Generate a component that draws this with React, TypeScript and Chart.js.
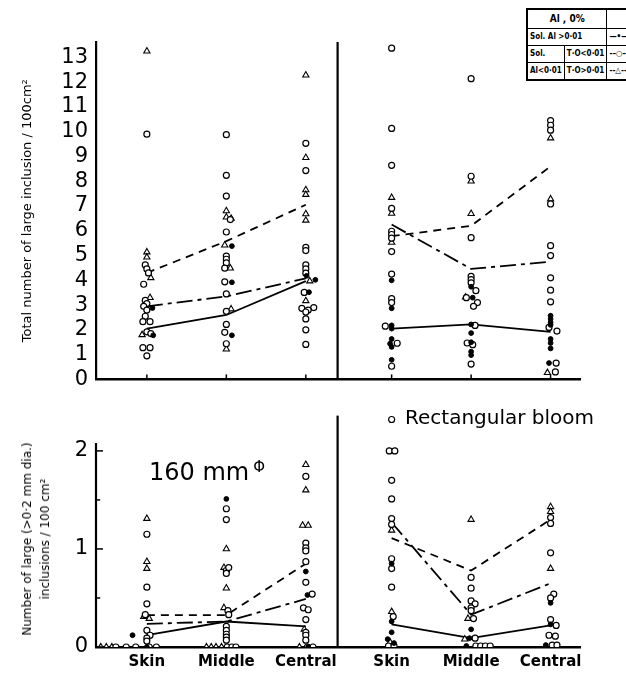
import React, { useEffect, useRef } from 'react';
import { Chart, registerables } from 'chart.js';

Chart.register(...registerables);

// [category index (0 Skin, 1 Middle, 2 Central), value, horizontal jitter]
type Pt = [number, number, number];

const CATEGORIES = ['Skin', 'Middle', 'Central'];
const TOP_Y_TICKS = [0, 1, 2, 3, 4, 5, 6, 7, 8, 9, 10, 11, 12, 13];
const BOTTOM_Y_TICKS = [0, 0.5, 1, 1.5, 2];
const TOP_Y_MAX = 13.62;
const BOTTOM_Y_MAX = 2.36;
const BOTTOM_AXIS_TOP = 2.08;

// ---------- Top-left: 160 mm, total inclusions ----------
const TL_DOTS: Pt[] = [
  [0, 2.88, 0.07], [0, 1.78, 0.08],
  [1, 5.38, 0.07], [1, 3.92, 0.07], [1, 1.78, 0.07],
  [2, 4.18, 0.01], [2, 4.02, 0.12], [2, 3.52, 0.04],
];
const TL_CIRCLES: Pt[] = [
  [0, 9.9, 0], [0, 4.62, -0.02], [0, 4.46, 0], [0, 4.3, 0.02], [0, 3.84, -0.04], [0, 3.19, -0.02],
  [0, 3.06, 0], [0, 2.95, -0.04], [0, 2.8, 0], [0, 2.55, -0.02], [0, 2.33, -0.05], [0, 2.33, 0.04],
  [0, 1.92, 0], [0, 1.85, 0.05], [0, 1.28, -0.05], [0, 1.28, 0.04], [0, 0.95, 0],
  [1, 9.88, 0], [1, 8.24, 0], [1, 7.4, 0], [1, 6.45, 0.05], [1, 5.95, 0], [1, 4.98, 0], [1, 4.85, 0],
  [1, 4.7, 0], [1, 4.49, -0.02], [1, 3.94, -0.02], [1, 3.45, 0], [1, 2.75, 0], [1, 2.22, 0],
  [1, 1.9, -0.02], [1, 1.44, 0],
  [2, 9.53, 0], [2, 8.43, 0], [2, 5.33, 0], [2, 5.2, 0], [2, 4.62, 0], [2, 4.46, 0], [2, 4.29, 0],
  [2, 3.51, -0.02], [2, 2.9, 0.1], [2, 2.87, -0.05], [2, 2.8, 0.03], [2, 2.72, 0], [2, 2.44, 0],
  [2, 2.0, 0], [2, 1.41, 0],
];
const TL_TRIANGLES: Pt[] = [
  [0, 13.25, 0], [0, 5.14, 0], [0, 4.93, 0], [0, 4.1, 0.05], [0, 3.3, 0.04], [0, 1.8, -0.06],
  [1, 6.8, 0], [1, 6.55, 0], [1, 6.5, 0.06], [1, 5.42, -0.02], [1, 4.49, 0.05], [1, 2.84, 0.06], [1, 1.22, 0],
  [2, 12.28, 0], [2, 8.95, 0], [2, 7.65, 0], [2, 7.46, 0], [2, 6.68, 0], [2, 6.42, 0], [2, 3.97, 0.05], [2, 3.17, 0],
];
const TL_SOLID = [2.05, 2.6, 3.97];
const TL_DASHDOT = [2.95, 3.35, 4.08];
const TL_DASHED = [4.3, 5.58, 7.05];

// ---------- Top-right: rectangular bloom, total inclusions ----------
const TR_DOTS: Pt[] = [
  [0, 4.0, 0], [0, 2.87, 0], [0, 2.18, 0], [0, 2.05, 0], [0, 1.63, 0], [0, 1.44, -0.02], [0, 1.31, 0], [0, 0.79, 0],
  [1, 3.74, 0], [1, 3.3, 0.02], [1, 2.22, 0], [1, 1.87, 0], [1, 1.5, 0], [1, 1.12, 0], [1, 0.98, 0],
  [2, 2.57, 0], [2, 2.44, 0], [2, 2.3, 0], [2, 2.2, 0], [2, 1.63, 0], [2, 1.47, 0], [2, 1.25, 0], [2, 0.66, -0.02],
];
const TR_CIRCLES: Pt[] = [
  [0, 13.37, 0], [0, 10.13, 0], [0, 8.64, 0], [0, 6.9, 0], [0, 5.98, 0], [0, 5.85, 0], [0, 5.7, 0],
  [0, 5.16, 0], [0, 4.25, 0], [0, 3.26, 0], [0, 3.1, 0], [0, 2.15, -0.08], [0, 1.46, 0.07], [0, 0.53, 0],
  [1, 12.14, 0], [1, 8.2, 0], [1, 5.72, 0], [1, 4.16, 0], [1, 4.03, 0], [1, 3.9, 0], [1, 3.58, 0.06],
  [1, 3.3, -0.06], [1, 3.1, 0.08], [1, 2.95, 0.03], [1, 2.18, 0.05], [1, 1.47, -0.05], [1, 1.4, 0.02], [1, 0.62, 0],
  [2, 10.45, 0], [2, 10.26, 0], [2, 10.06, 0], [2, 7.08, 0], [2, 5.4, 0], [2, 5.0, 0], [2, 4.1, 0],
  [2, 3.6, 0], [2, 3.13, 0], [2, 2.1, -0.02], [2, 1.95, 0.08], [2, 0.66, 0.07], [2, 0.3, 0.06],
];
const TR_TRIANGLES: Pt[] = [
  [0, 7.34, 0], [0, 6.7, 0], [0, 5.53, 0],
  [1, 8.0, 0], [1, 6.69, 0], [1, 3.32, -0.07],
  [2, 9.74, 0], [2, 7.28, 0], [2, 0.27, -0.04],
];
const TR_SOLID = [2.05, 2.22, 1.92];
const TR_DASHDOT = [6.25, 4.46, 4.75];
const TR_DASHED = [5.78, 6.2, 8.6];

// ---------- Bottom-left: 160 mm, large (>0.2 mm) inclusions ----------
const BL_DOTS: Pt[] = [
  [0, 0.12, -0.18], [0, 0, 0],
  [1, 1.51, 0],
  [2, 0.77, 0], [2, 0.53, 0.02], [2, 0, 0.03],
];
const BL_CIRCLES: Pt[] = [
  [0, 1.15, 0], [0, 0.61, 0], [0, 0.44, 0], [0, 0.33, -0.02], [0, 0.17, 0], [0, 0.12, 0.04], [0, 0.09, 0],
  [0, 0.06, 0], [0, 0, -0.39], [0, 0, -0.26], [0, 0, -0.14], [0, 0, 0.03], [0, 0, 0.12],
  [1, 1.41, 0], [1, 1.3, 0], [1, 0.78, 0], [1, 0.75, 0], [1, 0.81, 0.03], [1, 0.37, 0.02], [1, 0.33, 0.03],
  [1, 0.21, 0], [1, 0.17, 0], [1, 0.13, 0], [1, 0.1, 0], [1, 0.07, 0], [1, 0, 0.01], [1, 0, 0.07], [1, 0, 0.12],
  [2, 1.74, 0], [2, 1.06, 0], [2, 1.01, 0], [2, 0.98, 0], [2, 0.87, 0], [2, 0.66, 0], [2, 0.54, 0.08],
  [2, 0.4, -0.03], [2, 0.38, 0.03], [2, 0.28, 0], [2, 0.15, 0], [2, 0.12, 0], [2, 0.07, 0], [2, 0, 0.02], [2, 0, 0.09],
];
const BL_TRIANGLES: Pt[] = [
  [0, 1.31, 0], [0, 0.87, 0], [0, 0.8, 0], [0, 0.31, -0.04], [0, 0.29, 0.03],
  [0, 0, -0.58], [0, 0, -0.51], [0, 0, -0.44],
  [1, 1.0, 0], [1, 0.81, -0.03], [1, 0.6, 0], [1, 0.4, -0.03],
  [1, 0, -0.25], [1, 0, -0.19], [1, 0, -0.13], [1, 0, -0.06],
  [2, 1.86, 0], [2, 1.6, 0], [2, 1.24, -0.04], [2, 1.24, 0.03], [2, 0.18, -0.02], [2, 0, -0.08],
];
const BL_SOLID = [0.12, 0.26, 0.21];
const BL_DASHDOT = [0.236, 0.26, 0.49];
const BL_DASHED = [0.325, 0.325, 0.85];

// ---------- Bottom-right: rectangular bloom, large inclusions ----------
const BR_DOTS: Pt[] = [
  [0, 0.85, 0], [0, 0.26, 0], [0, 0.15, 0], [0, 0.08, -0.05], [0, 0.04, 0.03],
  [1, 0.18, 0], [1, 0.09, -0.02], [1, 0.01, -0.06],
  [2, 0.45, 0], [2, 0.23, 0], [2, 0.02, -0.06],
];
const BR_CIRCLES: Pt[] = [
  [0, 2.32, 0], [0, 2.0, -0.03], [0, 2.0, 0.04], [0, 1.7, 0], [0, 1.51, 0], [0, 1.31, 0], [0, 1.25, 0],
  [0, 0.9, 0], [0, 0.8, 0], [0, 0.61, 0], [0, 0.31, 0.02], [0, 0.01, -0.04], [0, 0.01, 0.03],
  [1, 0.71, 0], [1, 0.6, 0], [1, 0.47, 0], [1, 0.44, 0.05], [1, 0.4, 0], [1, 0.37, 0], [1, 0.29, 0.03],
  [1, 0.09, 0.05], [1, 0.01, 0.06], [1, 0.01, 0.12], [1, 0.01, 0.18], [1, 0.01, 0.24],
  [2, 1.32, 0], [2, 1.26, 0], [2, 0.96, 0], [2, 0.54, 0.04], [2, 0.5, 0], [2, 0.28, 0], [2, 0.22, 0.07],
  [2, 0.12, -0.02], [2, 0.11, 0.06], [2, 0.02, 0.02], [2, 0.02, 0.08],
];
const BR_TRIANGLES: Pt[] = [
  [0, 1.19, 0], [0, 0.36, 0], [0, 0.05, -0.02],
  [1, 1.3, 0], [1, 0.29, -0.04], [1, 0.08, -0.08],
  [2, 1.43, 0], [2, 1.38, 0], [2, 0.8, 0],
];
const BR_SOLID = [0.23, 0.09, 0.22];
const BR_DASHDOT = [1.27, 0.33, 0.65];
const BR_DASHED = [1.11, 0.78, 1.3];

// ---------- layout constants (scale units) ----------
const X_MIN = 0.36;
const X_MAX = 6.45;
const RIGHT_SHIFT = 3.08;
const DIVIDER_X = 3.4;
const X_TICKS = [1, 2, 3, 1 + RIGHT_SHIFT, 2 + RIGHT_SHIFT, 3 + RIGHT_SHIFT];

const FONT = 'DejaVu Sans';

const toXY = (pts: Pt[], shift: number) =>
  pts.map(([c, v, dx]) => ({ x: shift + c + 1 + dx, y: v }));
const lineXY = (vals: number[], shift: number) =>
  vals.map((v, i) => ({ x: shift + i + 1, y: v }));

function panelDatasets(
  dots: Pt[], circles: Pt[], tris: Pt[],
  solid: number[], dashdot: number[], dashed: number[], shift: number
): any[] {
  return [
    {
      data: toXY(dots, shift), showLine: false, pointStyle: 'circle', pointRadius: 2.4,
      pointBackgroundColor: '#000', pointBorderColor: '#000', pointBorderWidth: 1,
    },
    {
      data: toXY(circles, shift), showLine: false, pointStyle: 'circle', pointRadius: 3,
      pointBackgroundColor: '#fff', pointBorderColor: '#000', pointBorderWidth: 1.2,
    },
    {
      data: toXY(tris, shift), showLine: false, pointStyle: 'triangle', pointRadius: 3.6,
      pointBackgroundColor: '#fff', pointBorderColor: '#000', pointBorderWidth: 1.1,
    },
    { data: lineXY(solid, shift), showLine: true, borderColor: '#000', borderWidth: 1.8, pointRadius: 0 },
    { data: lineXY(dashdot, shift), showLine: true, borderColor: '#000', borderWidth: 1.8, pointRadius: 0, borderDash: [16, 5, 4, 5] },
    { data: lineXY(dashed, shift), showLine: true, borderColor: '#000', borderWidth: 1.8, pointRadius: 0, borderDash: [8, 6] },
  ];
}

const vline = (x: number, yTop: number): any => ({
  data: [{ x, y: 0 }, { x, y: yTop }], showLine: true, borderColor: '#000',
  borderWidth: 2.2, pointRadius: 0, clip: false,
});

const innerTicks = {
  id: 'innerTicks',
  afterDatasetsDraw(chart: any, _args: any, opts: any) {
    const { ctx, chartArea } = chart;
    const xs = chart.scales.x;
    const ys = chart.scales.y;
    ctx.save();
    ctx.strokeStyle = '#000';
    ctx.lineWidth = 1.5;
    if (opts.x) {
      for (const t of xs.ticks) {
        const px = xs.getPixelForValue(t.value);
        ctx.beginPath();
        ctx.moveTo(px, chartArea.bottom);
        ctx.lineTo(px, chartArea.bottom - opts.x);
        ctx.stroke();
      }
    }
    if (opts.y) {
      for (const t of ys.ticks) {
        const py = ys.getPixelForValue(t.value);
        ctx.beginPath();
        ctx.moveTo(chartArea.left, py);
        ctx.lineTo(chartArea.left + (Number.isInteger(t.value) ? opts.y : opts.y * 0.6), py);
        ctx.stroke();
      }
    }
    ctx.restore();
  },
};

export default function App() {
  const topRef = useRef<HTMLCanvasElement>(null);
  const botRef = useRef<HTMLCanvasElement>(null);

  useEffect(() => {
    const xScale = (height: number, showLabels: boolean) => ({
      type: 'linear',
      min: X_MIN,
      max: X_MAX,
      afterBuildTicks: (s: any) => { s.ticks = X_TICKS.map((v) => ({ value: v })); },
      afterFit: (s: any) => { s.height = height; },
      grid: { display: false, drawTicks: false },
      border: { display: true, width: 2.5, color: '#000' },
      ticks: {
        display: showLabels,
        autoSkip: false,
        maxRotation: 0,
        padding: 6,
        color: '#000',
        font: { family: FONT, size: 15, weight: 'bold' },
        callback: (_v: any, i: number) => CATEGORIES[i % 3],
      },
    });

    const top = new Chart(topRef.current as HTMLCanvasElement, {
      type: 'scatter',
      data: {
        datasets: [
          ...panelDatasets(TL_DOTS, TL_CIRCLES, TL_TRIANGLES, TL_SOLID, TL_DASHDOT, TL_DASHED, 0),
          ...panelDatasets(TR_DOTS, TR_CIRCLES, TR_TRIANGLES, TR_SOLID, TR_DASHDOT, TR_DASHED, RIGHT_SHIFT),
          vline(DIVIDER_X, TOP_Y_MAX),
        ],
      },
      options: {
        animation: false,
        responsive: false,
        events: [],
        layout: { padding: { left: 0, top: 42, right: 46, bottom: 0 } },
        plugins: {
          legend: { display: false },
          tooltip: { enabled: false },
          innerTicks: { x: 5 },
        } as any,
        scales: {
          x: xScale(8, false) as any,
          y: {
            type: 'linear',
            min: 0,
            max: TOP_Y_MAX,
            afterBuildTicks: (s: any) => { s.ticks = TOP_Y_TICKS.map((v) => ({ value: v })); },
            afterFit: (s: any) => { s.width = 96; },
            grid: { display: false, drawTicks: false },
            border: { display: true, width: 2.2, color: '#000' },
            ticks: {
              autoSkip: false,
              padding: 8,
              color: '#000',
              font: { family: FONT, size: 21 },
              callback: (v: any) => String(v),
            },
            title: {
              display: true,
              text: 'Total number of large inclusion / 100cm²',
              color: '#000',
              font: { family: FONT, size: 13 },
              padding: { top: 20, bottom: 0 },
            },
          } as any,
        },
      },
      plugins: [innerTicks],
    });

    const bot = new Chart(botRef.current as HTMLCanvasElement, {
      type: 'scatter',
      data: {
        datasets: [
          ...panelDatasets(BL_DOTS, BL_CIRCLES, BL_TRIANGLES, BL_SOLID, BL_DASHDOT, BL_DASHED, 0),
          ...panelDatasets(BR_DOTS, BR_CIRCLES, BR_TRIANGLES, BR_SOLID, BR_DASHDOT, BR_DASHED, RIGHT_SHIFT),
          vline(DIVIDER_X, BOTTOM_Y_MAX),
          vline(X_MIN, BOTTOM_AXIS_TOP),
        ],
      },
      options: {
        animation: false,
        responsive: false,
        events: [],
        layout: { padding: { left: 0, top: 5, right: 46, bottom: 0 } },
        plugins: {
          legend: { display: false },
          tooltip: { enabled: false },
          innerTicks: { y: 7 },
        } as any,
        scales: {
          x: xScale(28, true) as any,
          y: {
            type: 'linear',
            min: 0,
            max: BOTTOM_Y_MAX,
            afterBuildTicks: (s: any) => { s.ticks = BOTTOM_Y_TICKS.map((v) => ({ value: v })); },
            afterFit: (s: any) => { s.width = 96; },
            grid: { display: false, drawTicks: false },
            border: { display: false },
            ticks: {
              autoSkip: false,
              padding: 8,
              color: '#000',
              font: { family: FONT, size: 21 },
              callback: (v: any) => (Number.isInteger(v) ? String(v) : ''),
            },
          } as any,
        },
      },
      plugins: [innerTicks],
    });

    return () => {
      top.destroy();
      bot.destroy();
    };
  }, []);

  const cell: React.CSSProperties = {
    border: '1.5px solid #000',
    padding: '0 2px',
    height: 16,
    whiteSpace: 'nowrap',
  };

  return (
    <div
      style={{
        position: 'absolute', left: 0, top: 0, width: 626, height: 675,
        overflow: 'hidden', background: '#fff', fontFamily: FONT, color: '#000',
      }}
    >
      <canvas ref={topRef} width={626} height={400} style={{ position: 'absolute', left: 0, top: 0 }} />
      <canvas ref={botRef} width={626} height={280} style={{ position: 'absolute', left: 0, top: 395 }} />

      <div
        style={{
          position: 'absolute', left: 36, top: 539, transform: 'translate(-50%, -50%) rotate(-90deg)',
          whiteSpace: 'nowrap', textAlign: 'center', fontSize: 12, lineHeight: '18px',
        }}
      >
        Number of large (&gt;0·2 mm dia.)
        <br />
        inclusions / 100 cm²
      </div>

      <div style={{ position: 'absolute', left: 149, top: 453, fontSize: 24, lineHeight: '28px', whiteSpace: 'nowrap' }}>
        160 mm<span style={{ fontSize: 15, verticalAlign: 8, marginLeft: 4 }}>Φ</span>
      </div>
      <div style={{ position: 'absolute', left: 405, top: 405, fontSize: 20, lineHeight: '24px', whiteSpace: 'nowrap' }}>
        Rectangular bloom
      </div>

      <table
        style={{
          position: 'absolute', left: 526, top: 8, borderCollapse: 'collapse',
          border: '2px solid #000', fontFamily: 'DejaVu Sans Condensed, DejaVu Sans',
          fontWeight: 'bold', fontSize: 8, lineHeight: '10px', background: '#fff',
        }}
      >
        <tbody>
          <tr>
            <td colSpan={2} style={{ ...cell, height: 18, fontSize: 10, textAlign: 'center', width: 66 }}>Al , 0%</td>
            <td style={{ ...cell, width: 60 }}></td>
          </tr>
          <tr>
            <td colSpan={2} style={cell}>Sol. Al &gt;0·01</td>
            <td style={cell}>—•—</td>
          </tr>
          <tr>
            <td style={{ ...cell, width: 30 }}>Sol.</td>
            <td style={cell}>T·O&lt;0·01</td>
            <td style={cell}>-–○–-</td>
          </tr>
          <tr>
            <td style={cell}>Al&lt;0·01</td>
            <td style={cell}>T·O&gt;0·01</td>
            <td style={cell}>--△--</td>
          </tr>
        </tbody>
      </table>
    </div>
  );
}
